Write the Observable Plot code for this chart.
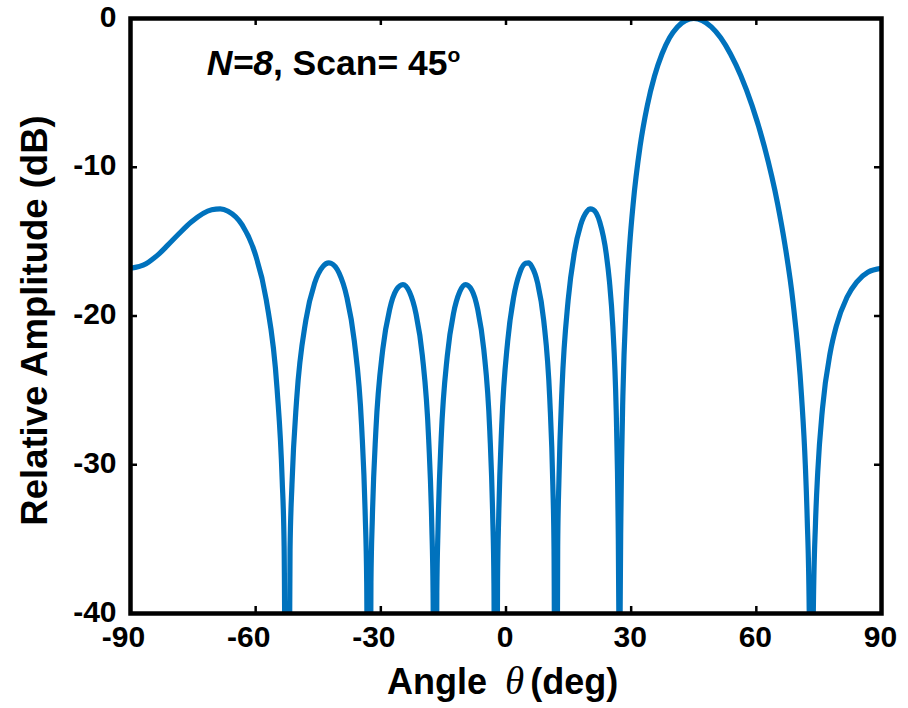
<!DOCTYPE html>
<html>
<head>
<meta charset="utf-8">
<script src="https://cdn.jsdelivr.net/npm/d3@7"></script>
<script src="https://cdn.jsdelivr.net/npm/@observablehq/plot@0.6"></script>
<style>
  html, body { margin: 0; padding: 0; background: #fff; }
  #chart svg { display: block; }
</style>
</head>
<body>
<div id="chart"></div>
<script>
// Angle (deg) and relative amplitude (dB).
// Nulls go far below the -40 dB floor and are clipped by the frame.
const angles = [
  -90, -86.27, -84.5, -83.16, -81.07, -78.63, -75.44, -70.54, -68.49, -66.62, -63.24, -60.21, -57.45, -54.87, -53.65, -53.18, -52.46,
  -51.76, -51.30, -50.17, -47.98, -45.88, -43.86, -42.48, -41.90, -40.01, -38.16, -36.36, -34.60, -33.74, -33.39, -32.88,
  -32.37, -32.03, -31.19, -29.53, -27.90, -26.29, -24.70, -23.13, -21.58, -20.05, -18.54, -17.78, -17.48, -17.03,
  -16.58, -16.28, -15.54, -14.06, -12.59, -11.12, -9.67, -8.22, -6.77, -5.33, -3.89, -3.18, -2.89, -2.46,
  -2.03, -1.74, -1.03, 0.41, 1.84, 3.27, 4.71, 5.43, 6.15, 7.59, 9.04, 10.49, 11.22, 11.51, 11.95,
  12.39, 12.69, 13.42, 14.90, 16.38, 17.89, 19.40, 20.16, 20.92, 22.47, 24.03, 24.81, 25.60, 26.40, 26.72, 26.88, 27.04, 27.20,
  27.36, 27.53, 27.69, 28.01, 28.82, 29.64, 30.47, 32.15, 33.86, 35.60, 37.38, 39.20, 41.08, 43.01, 45,
  47.06, 49.21, 51.46, 53.81, 56.31, 58.98, 61.89, 65.12, 66.87, 68.78, 70.84, 71.74, 72.19, 72.67, 73.15,
  73.66, 74.18, 74.72, 75.85, 77.72, 79.15, 81.73, 84.05, 86.72, 90
];
const amplitudes = [
  -16.79, -16.49, -16.13, -15.82, -15.24, -14.54, -13.68, -12.86, -12.80, -12.96, -13.88, -15.74, -18.93, -24.90, -30.99, -35.47, -70,
  -35.70, -31.34, -25.58, -20.30, -17.80, -16.66, -16.43, -16.46, -17.11, -18.72, -21.68, -27.42, -33.41, -37.86, -70,
  -37.95, -33.55, -27.71, -22.24, -19.57, -18.25, -17.89, -18.39, -19.84, -22.65, -28.25, -34.17, -38.59, -70,
  -38.59, -34.17, -28.25, -22.65, -19.84, -18.39, -17.89, -18.25, -19.57, -22.24, -27.71, -33.55, -37.95, -70,
  -37.86, -33.41, -27.42, -21.68, -18.72, -17.11, -16.46, -16.43, -16.66, -17.80, -20.30, -25.58, -31.33, -35.68, -70,
  -35.48, -30.99, -24.90, -18.93, -15.74, -13.88, -12.96, -12.80, -12.86, -13.68, -15.82, -17.72, -20.70, -26.23, -30.49, -33.92, -39.86, -70,
  -39.69, -33.59, -30.00, -25.40, -19.04, -15.23, -12.48, -8.57, -5.86, -3.87, -2.39, -1.30, -0.565, -0.14, 0,
  -0.14, -0.565, -1.30, -2.39, -3.87, -5.86, -8.57, -12.48, -15.23, -19.04, -25.40, -30.00, -33.59, -39.69, -70,
  -39.86, -33.92, -30.49, -26.23, -22.44, -20.70, -18.74, -17.72, -17.06, -16.80
];

const xTickValues = [-90, -60, -30, 0, 30, 60, 90];
const xTickLabels = ["-90", "-60", "-30", "0", "30", "60", "90"];
const yTickValues = [0, -10, -20, -30, -40];
const yTickLabels = ["0", "-10", "-20", "-30", "-40"];
const xInnerTicks = [-60, -30, 0, 30, 60];
const yInnerTicks = [-10, -20, -30];

const xLabelParts = ["Angle", "\u03B8", "(deg)"];
const yLabel = "Relative Amplitude (dB)";
const noteParts = ["N=8", ", Scan= 45", "o"];
const notePosition = {angle: -71.6, dB: -3.85};

const data = angles.map((a, i) => ({angle: a, dB: amplitudes[i]}));
const xTicks = xTickValues.map((v, i) => ({v, label: xTickLabels[i], neg: v < 0}));
const yTicks = yTickValues.map((v, i) => ({v, label: yTickLabels[i]}));

const W = 908, H = 708;
const mL = 130, mR = 27, mT = 18, mB = 95;
const innerW = W - mL - mR, innerH = H - mT - mB;
const tickLen = 7;
const font = "'Liberation Sans', Arial, Helvetica, sans-serif";

const plot = Plot.plot({
  width: W,
  height: H,
  marginLeft: mL,
  marginRight: mR,
  marginTop: mT,
  marginBottom: mB,
  x: {domain: [-90, 90], axis: null},
  y: {domain: [-40, 0], axis: null},
  style: {background: "#fff", fontFamily: font, color: "#000", overflow: "visible"},
  marks: [
    Plot.line(data, {x: "angle", y: "dB", stroke: "#0072BD", strokeWidth: 5.2, curve: "monotone-x", clip: true, strokeLinejoin: "round"}),
    Plot.ruleX(xInnerTicks, {x: d => d, stroke: "#000", strokeWidth: 2.5, insetTop: innerH - tickLen}),
    Plot.ruleX(xInnerTicks, {x: d => d, stroke: "#000", strokeWidth: 2.5, insetBottom: innerH - tickLen}),
    Plot.ruleY(yInnerTicks, {y: d => d, stroke: "#000", strokeWidth: 2.5, insetRight: innerW - tickLen}),
    Plot.ruleY(yInnerTicks, {y: d => d, stroke: "#000", strokeWidth: 2.5, insetLeft: innerW - tickLen}),
    Plot.frame({stroke: "#000", strokeWidth: 4.5}),
    Plot.text(xTicks.filter(d => d.neg), {x: "v", text: "label", frameAnchor: "bottom", dy: 33, dx: -7, fontSize: 30, fontWeight: "bold", fill: "#000"}),
    Plot.text(xTicks.filter(d => !d.neg), {x: "v", text: "label", frameAnchor: "bottom", dy: 33, dx: -1, fontSize: 30, fontWeight: "bold", fill: "#000"}),
    Plot.text(yTicks, {y: "v", text: "label", frameAnchor: "left", dx: -14, dy: -1.5, textAnchor: "end", fontSize: 30, fontWeight: "bold", fill: "#000"})
  ]
});

document.getElementById("chart").appendChild(plot);

const svg = d3.select(plot);
const sx = plot.scale("x"), sy = plot.scale("y");

// x-axis label
const xl = svg.append("text")
  .attr("x", 387).attr("y", 694)
  .attr("text-anchor", "start")
  .attr("font-family", font).attr("font-size", 36).attr("font-weight", "bold").attr("fill", "#000");
xl.append("tspan").text(xLabelParts[0]);
xl.append("tspan").attr("dx", 18).attr("font-family", "'Liberation Serif', 'Times New Roman', serif")
  .attr("font-style", "italic").attr("font-weight", "normal").attr("font-size", 39).text(xLabelParts[1]);
xl.append("tspan").attr("dx", 6).text(xLabelParts[2]);

// y-axis label
svg.append("text")
  .attr("transform", `translate(47,${(mT + H - mB) / 2 + 5}) rotate(-90)`)
  .attr("text-anchor", "middle")
  .attr("font-family", font).attr("font-size", 36.5).attr("font-weight", "bold").attr("fill", "#000")
  .text(yLabel);

// annotation
const note = svg.append("text")
  .attr("x", sx.apply(notePosition.angle)).attr("y", sy.apply(notePosition.dB))
  .attr("text-anchor", "start")
  .attr("font-family", font).attr("font-size", 35.5).attr("font-weight", "bold").attr("fill", "#000");
note.append("tspan").attr("font-style", "italic").text(noteParts[0]);
note.append("tspan").text(noteParts[1]);
note.append("tspan").attr("dy", -13).attr("font-size", 21).text(noteParts[2]);
</script>
</body>
</html>
